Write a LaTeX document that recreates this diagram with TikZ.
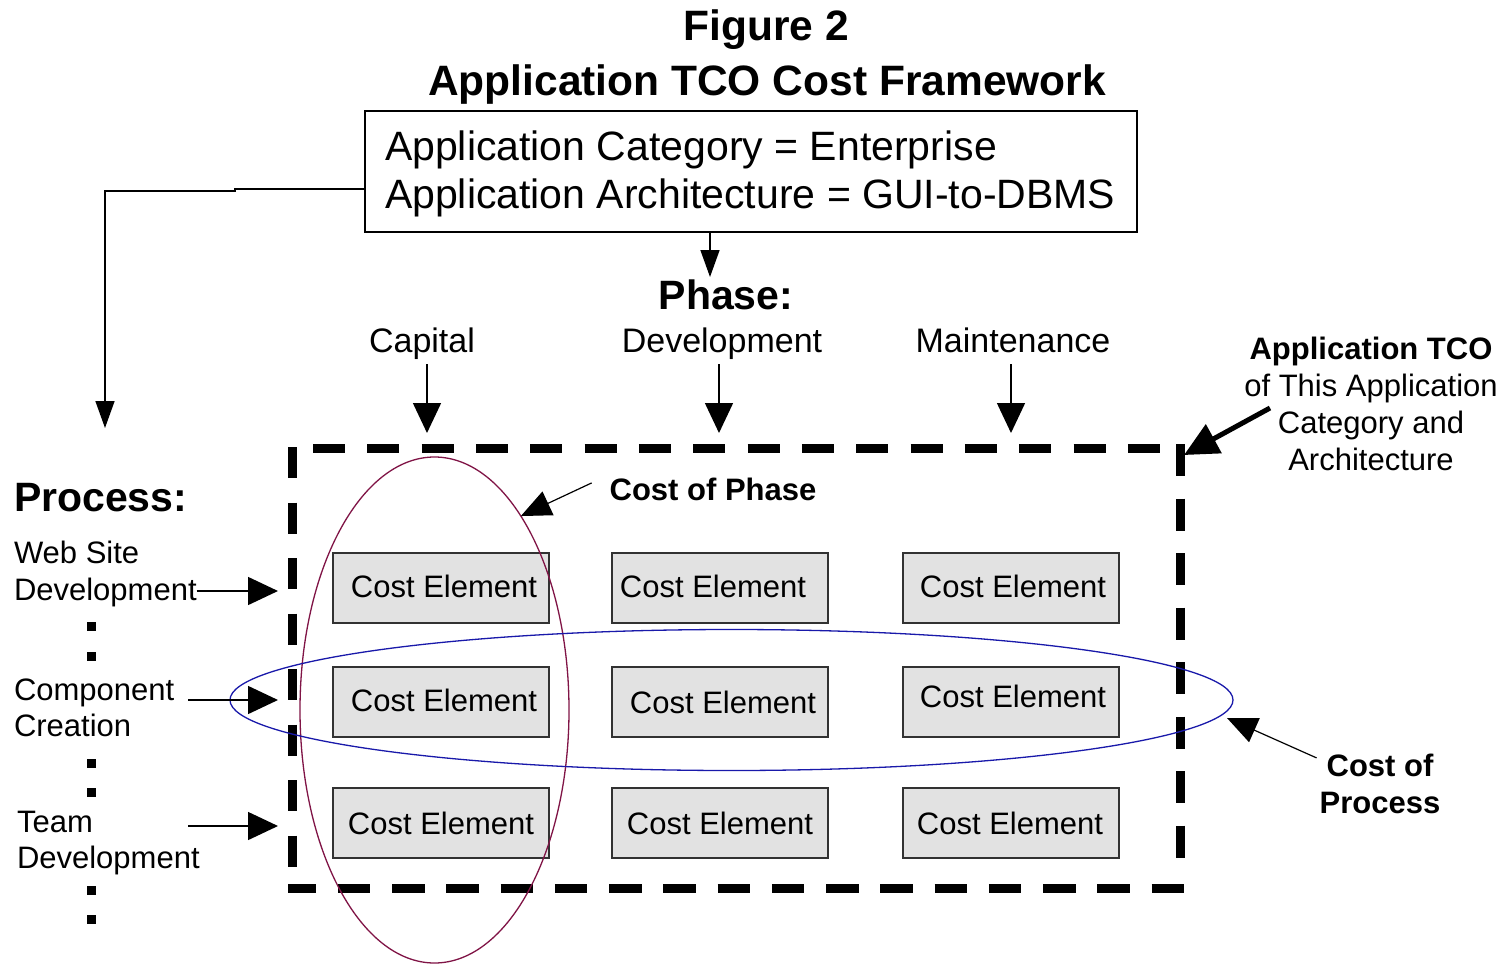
\documentclass[tikz,border=0pt]{standalone}
\usepackage{fontspec}
\setmainfont{Liberation Sans}
\usetikzlibrary{arrows.meta,shapes.geometric,calc}

\definecolor{ovalred}{RGB}{128,20,70}
\definecolor{ovalblue}{RGB}{25,25,170}
\definecolor{cefill}{RGB}{226,226,226}
\definecolor{ceedge}{RGB}{50,50,50}

\tikzset{
  txt/.style={inner sep=0pt, outer sep=0pt, text=black},
  titlefont/.style={font=\fontsize{42.5}{48}\selectfont\bfseries},
  bigfont/.style={font=\fontsize{41}{48}\selectfont},
  bigbold/.style={font=\fontsize{41}{48}\selectfont\bfseries},
  midfont/.style={font=\fontsize{34}{40}\selectfont},
  smallfont/.style={font=\fontsize{31}{37}\selectfont},
  smallbold/.style={font=\fontsize{31}{37}\selectfont\bfseries},
  appbox/.style={draw, line width=1.5pt, minimum width=772pt, minimum height=121pt,
    inner sep=0pt, outer sep=0pt},
  tcoarea/.style={minimum width=888pt, minimum height=440pt, inner sep=0pt, outer sep=0pt},
  framedash/.style={line width=9pt},
  cebox/.style={draw=ceedge, fill=cefill, line width=2pt, minimum width=216pt,
    minimum height=70pt, inner sep=0pt, outer sep=0pt},
  cetext/.style={txt, smallfont, anchor=base},
  dotsq/.style={fill=black, minimum size=9pt, inner sep=0pt, outer sep=0pt},
  thinarrow/.style={line width=1.5pt, -{Triangle[length=27pt,width=19pt]}},
  bigarrow/.style={line width=1.5pt, -{Triangle[length=30pt,width=28pt]}},
  notearrow/.style={line width=1.2pt, -{Triangle[length=30pt,width=26pt]}},
  heavyarrow/.style={line width=5pt, -{Triangle[length=34pt,width=32pt]}},
}

\begin{document}
\begin{tikzpicture}[x=1pt,y=-1pt]
\fill[white] (0,0) rectangle (1502,964);
\useasboundingbox (0,0) rectangle (1502,964);

% headings
\node[txt, titlefont, anchor=base] (fig) at (766,40) {Figure 2};
\node[txt, titlefont, anchor=base] (title) at (767,95) {Application TCO Cost Framework};

% category / architecture box
\node[appbox] (app) at (751,171.5) {};
\node[txt, bigfont, anchor=base west] (appcat) at (385,160) {Application Category = Enterprise};
\node[txt, bigfont, anchor=base west] (apparch) at (385,208) {Application Architecture = GUI-to-DBMS};

% phases
\node[txt, bigbold, anchor=base] (phase) at (726,309) {Phase:};
\node[txt, midfont, anchor=base] (capital) at (422,352) {Capital};
\node[txt, midfont, anchor=base] (devel) at (722,352) {Development};
\node[txt, midfont, anchor=base] (maint) at (1013,352) {Maintenance};

% framework frame: each side dashed on its own
\node[tcoarea] (tco) at (736,668) {};
\draw[framedash, dash pattern=on 31pt off 24.5pt]
  ($(tco.north west)+(0,-1)$) -- ($(tco.south west)+(0,-21)$);
\draw[framedash, dash pattern=on 32pt off 22.33pt]
  ($(tco.north west)+(21,0)$) -- ($(tco.north east)+(-20,0)$);
\draw[framedash, dash pattern=on 32pt off 22.5pt]
  ($(tco.north east)+(0,-4)$) -- ($(tco.south east)+(0,-26)$);
\draw[framedash, dash pattern=on 32.5pt off 21.75pt, dash phase=4.5pt]
  ($(tco.south west)+(-4,0)$) -- ($(tco.south east)+(4,0)$);

% cost elements
\foreach \r/\y in {1/588,2/702,3/822.5}{
  \node[cebox] (e\r1) at (441,\y) {};
  \node[cebox] (e\r2) at (720,\y) {};
  \node[cebox] (e\r3) at (1011,\y) {};
}
\node[cetext] (t11) at (444,597) {Cost Element};
\node[cetext] (t12) at (713,597) {Cost Element};
\node[cetext] (t13) at (1013,597) {Cost Element};
\node[cetext] (t21) at (444,711) {Cost Element};
\node[cetext] (t22) at (723,713) {Cost Element};
\node[cetext] (t23) at (1013,707) {Cost Element};
\node[cetext] (t31) at (441,834) {Cost Element};
\node[cetext] (t32) at (720,834) {Cost Element};
\node[cetext] (t33) at (1010,834) {Cost Element};

% process labels
\node[txt, bigbold, anchor=base west] (process) at (14,511) {Process:};
\node[txt, smallfont, anchor=base west] (web1) at (14,563) {Web Site};
\node[txt, smallfont, anchor=base west] (web2) at (14,600) {Development};
\node[txt, smallfont, anchor=base west] (comp1) at (14,700) {Component};
\node[txt, smallfont, anchor=base west] (comp2) at (14,736) {Creation};
\node[txt, smallfont, anchor=base west] (team1) at (17,832) {Team};
\node[txt, smallfont, anchor=base west] (team2) at (17,868) {Development};

\foreach \n/\y in {1/626,2/656,3/763,4/792,5/890,6/919}{
  \node[dotsq] (dot\n) at (91,\y) {};
}

% annotations
\node[txt, smallbold, anchor=base] (costphase) at (713,500) {Cost of Phase};
\node[txt, smallbold, anchor=base] (tco1) at (1371,359) {Application TCO};
\node[txt, smallfont, anchor=base] (tco2) at (1371,396) {of This Application};
\node[txt, smallfont, anchor=base] (tco3) at (1371,433) {Category and};
\node[txt, smallfont, anchor=base] (tco4) at (1371,470) {Architecture};
\node[txt, smallbold, anchor=base] (cproc1) at (1380,776) {Cost of};
\node[txt, smallbold, anchor=base] (cproc2) at (1380,813) {Process};

% ovals
\node[draw=ovalred, line width=1.3pt, ellipse, minimum width=269pt, minimum height=506pt,
  inner sep=0pt, outer sep=0pt] (phaseoval) at (434.5,710) {};
\node[draw=ovalblue, line width=1.3pt, ellipse, minimum width=1003pt, minimum height=141pt,
  inner sep=0pt, outer sep=0pt] (procoval) at (731.5,700) {};

% connectors
\coordinate (procdrop) at (105,428);
\draw[thinarrow] ($(app.west)+(0,17.5)$) -- (235,189) -- (235,191) -- (105,191) -- (procdrop);
\coordinate (phasein) at (710,277);
\draw[thinarrow] (app.south -| phasein) -- (phasein);

\coordinate (capin) at (427,433);
\coordinate (devin) at (719,433);
\coordinate (maintin) at (1011,433);
\draw[bigarrow] (capin |- 0,364) -- (capin);
\draw[bigarrow] (devin |- 0,364) -- (devin);
\draw[bigarrow] (maintin |- 0,364) -- (maintin);

\coordinate (webin) at (278,591);
\coordinate (compin) at (278,700);
\coordinate (teamin) at (278,826);
\draw[bigarrow] (web2.east |- webin) -- (webin);
\draw[bigarrow] (188,700) -- (compin);
\draw[bigarrow] (188,826) -- (teamin);

\draw[notearrow] ($(costphase.west)+(-18,-6)$) -- (phaseoval.66);
\draw[notearrow] ($(cproc1.west)+(-10,-7)$) -- ($(procoval.east)+(-6,18)$);
\draw[heavyarrow] (1270,408) -- ($(tco.north east)+(4,7)$);
\end{tikzpicture}
\end{document}
